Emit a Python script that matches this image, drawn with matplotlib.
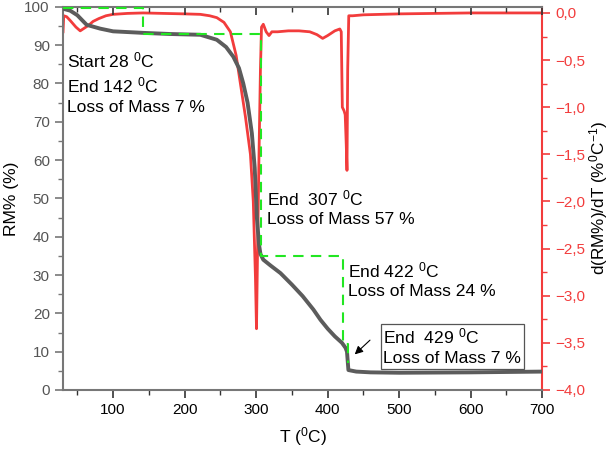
'''
TGA / DTG curve with step annotations.
'''
import matplotlib
matplotlib.use('Agg')
import matplotlib.pyplot as plt
from matplotlib.ticker import MultipleLocator, FuncFormatter

plt.rcParams['font.family'] = ['Liberation Sans', 'DejaVu Sans']
plt.rcParams['mathtext.default'] = 'regular'

# --- data ---
T_rm = [30, 40, 50, 63, 82, 100, 142, 180, 222, 245, 258, 268, 276, 282, 288, 294,
        298, 301, 304, 306, 310, 320, 334, 350, 365, 380, 390, 400, 410, 420, 425,
        427, 429, 440, 460, 500, 600, 700]
rm = [99.5, 99.0, 97.8, 95.3, 94.3, 93.6, 93.2, 92.9, 92.7, 91.4, 89.5, 87.0, 84.0,
      80.0, 75.0, 67.0, 58.0, 45.0, 38.0, 35.5, 34.0, 32.5, 30.5, 27.5, 24.5, 21.0,
      18.3, 16.0, 14.0, 12.3, 11.0, 10.0, 5.2, 4.8, 4.6, 4.5, 4.6, 4.8]

T_dtg = [30, 31, 35, 40, 48, 54, 60, 66, 72, 80, 90, 100, 120, 142, 170, 200, 222,
         235, 245, 255, 264, 272, 278, 285, 292, 296, 299, 300.5, 302, 304, 306,
         307.5, 310, 314, 318, 322, 330, 345, 360, 375, 385, 393, 400, 410, 417,
         419, 420.5, 423, 424.5, 426, 427, 428, 429.5, 435, 450, 500, 600, 700]
dtg = [-0.20, -0.03, -0.04, -0.08, -0.15, -0.19, -0.16, -0.13, -0.09, -0.06, -0.03,
       -0.015, -0.005, 0.0, -0.005, -0.01, -0.015, -0.03, -0.05, -0.10, -0.20, -0.45,
       -0.75, -1.10, -1.50, -2.00, -2.80, -3.35, -2.50, -1.50, -0.60, -0.15, -0.12,
       -0.20, -0.24, -0.20, -0.20, -0.19, -0.19, -0.20, -0.23, -0.27, -0.24, -0.19,
       -0.17, -0.20, -1.00, -1.04, -1.08, -1.40, -1.67, -0.60, -0.03, -0.03, -0.02,
       -0.01, 0.0, 0.0]

# stepwise construction lines (mass-loss steps)
step_T = [30, 142, 142, 307, 307, 422, 422, 429, 429]
step_rm = [99.6, 99.6, 93, 93, 35, 35, 12, 12, 7]

GRAY = '#5c5c5c'
RED = '#f23c3c'
GREEN = '#22e622'
AX_GRAY = '#777777'

fig = plt.figure(figsize=(6.12, 4.54), dpi=100)
ax = fig.add_axes([0.103, 0.141, 0.783, 0.844])
ax2 = ax.twinx()

ax.plot(T_rm, rm, color=GRAY, lw=2.8, zorder=3)
ax.plot(step_T, step_rm, color=GREEN, lw=1.5, ls=(0, (5, 3.5)), zorder=4,
        clip_on=False)
ax2.plot(T_dtg, dtg, color=RED, lw=2.0)
ax.set_zorder(ax2.get_zorder() + 1)
ax.patch.set_visible(False)

ax.set_xlim(30, 700)
ax.set_ylim(0, 100)
ax2.set_ylim(-4.0, 0.065)

ax.xaxis.set_major_locator(MultipleLocator(100))
ax.xaxis.set_minor_locator(MultipleLocator(50))
ax.yaxis.set_major_locator(MultipleLocator(10))
ax.yaxis.set_minor_locator(MultipleLocator(5))
ax2.yaxis.set_major_locator(MultipleLocator(0.5))
ax2.yaxis.set_minor_locator(MultipleLocator(0.25))
ax2.yaxis.set_major_formatter(FuncFormatter(
    lambda v, p: ('%.1f' % v).replace('.', ',').replace('-', '\u2212')))

for s in ['left', 'bottom', 'top']:
    ax.spines[s].set_color(AX_GRAY)
    ax.spines[s].set_linewidth(1.5)
ax.spines['right'].set_visible(False)
ax2.spines['right'].set_color(RED)
ax2.spines['right'].set_linewidth(1.5)
for s in ['left', 'bottom', 'top']:
    ax2.spines[s].set_visible(False)

ax.tick_params(axis='y', which='major', length=6, width=1.2, color=AX_GRAY,
               labelcolor='#555555', labelsize=11)
ax.tick_params(axis='y', which='minor', length=3.5, width=1.0, color=AX_GRAY)
ax.tick_params(axis='x', which='major', length=6, width=1.2, color='#333333',
               labelsize=11)
ax.tick_params(axis='x', which='minor', length=3.5, width=1.0, color='#333333')
ax2.tick_params(axis='y', which='major', length=6, width=1.2, color=RED,
                labelcolor=RED, labelsize=11)
ax2.tick_params(axis='y', which='minor', length=3.5, width=1.0, color=RED)

top = ax.secondary_xaxis('top')
top.xaxis.set_major_locator(MultipleLocator(100))
top.xaxis.set_minor_locator(MultipleLocator(50))
top.tick_params(which='major', direction='in', length=6, width=1.2, color='#333333',
                labeltop=False)
top.tick_params(which='minor', direction='in', length=3.5, width=1.0, color='#333333')
top.spines['top'].set_visible(False)

ax.set_xlabel('T ($^{0}$C)', fontsize=12.5, labelpad=6)
ax.set_ylabel('RM% (%)', fontsize=12.5, labelpad=4)
ax2.set_ylabel('d(RM%)/dT (%$^{0}$C$^{-1}$)', fontsize=12.3, labelpad=1)

fs = 12.6
ax.text(35, 86, 'Start 28 $^{0}$C', fontsize=fs, va='center')
ax.text(35, 79.6, 'End 142 $^{0}$C', fontsize=fs, va='center')
ax.text(35, 73.8, 'Loss of Mass 7 %', fontsize=fs, va='center')
ax.text(315, 50.1, 'End  307 $^{0}$C', fontsize=fs, va='center')
ax.text(315, 44.4, 'Loss of Mass 57 %', fontsize=fs, va='center')
ax.text(428, 31.3, 'End 422 $^{0}$C', fontsize=fs, va='center')
ax.text(428, 25.6, 'Loss of Mass 24 %', fontsize=fs, va='center')
ax.text(478, 11.4, 'End  429 $^{0}$C\nLoss of Mass 7 %', fontsize=fs, va='center',
        linespacing=1.4,
        bbox=dict(boxstyle='square,pad=0.15', fc='white', ec='#555555', lw=0.9))
ax.annotate('', xy=(435, 8.8), xytext=(462, 13.5),
            arrowprops=dict(arrowstyle='-|>', color='black', lw=0.8,
                            mutation_scale=12))

fig.savefig('out.png', dpi=100)
